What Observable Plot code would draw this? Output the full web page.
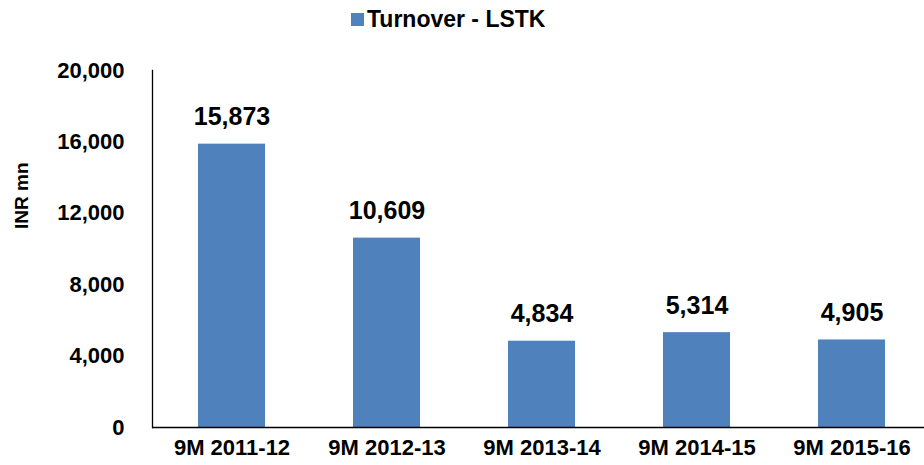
<!DOCTYPE html>
<html>
<head>
<meta charset="utf-8">
<script src="https://cdn.jsdelivr.net/npm/d3@7"></script>
<script src="https://cdn.jsdelivr.net/npm/@observablehq/plot@0.6"></script>
<style>
  html, body { margin: 0; padding: 0; background: #fff; }
  body { width: 924px; height: 465px; overflow: hidden; font-family: "Liberation Sans", Arial, sans-serif; }
  #legend { position: relative; height: 40px; }
  #legend .sw { position: absolute; left: 351px; top: 13px; width: 13px; height: 13px; background: #4F81BD; }
  #legend .lb { position: absolute; left: 367px; top: 6px; font-weight: bold; font-size: 23px; line-height: 27px; color: #000; }
</style>
</head>
<body>
<div id="legend"><span class="sw"></span><span class="lb"></span></div>
<div id="chart"></div>
<script>
const seriesName = "Turnover - LSTK";
const categories = ["9M 2011-12", "9M 2012-13", "9M 2013-14", "9M 2014-15", "9M 2015-16"];
const values = [15873, 10609, 4834, 5314, 4905];
const yTicks = [0, 4000, 8000, 12000, 16000, 20000];
const yLabel = "INR mn";

document.querySelector("#legend .lb").textContent = seriesName;

const data = categories.map((c, i) => ({cat: c, value: values[i]}));
const fmt = d3.format(",");
const font = "Liberation Sans, Arial, sans-serif";

const chart = Plot.plot({
  width: 924,
  height: 425,
  marginTop: 30,
  marginBottom: 38,
  marginLeft: 152,
  marginRight: 0,
  style: {fontFamily: font, color: "#000", background: "#fff"},
  x: {domain: categories, range: [152, 931], paddingInner: 0.57, paddingOuter: 0.285},
  y: {domain: [0, 20000]},
  marks: [
    Plot.barY(data, {x: "cat", y: "value", fill: "#4F81BD"}),
    Plot.frame({anchor: "left", stroke: "#000", strokeWidth: 1.3}),
    Plot.ruleY([0], {stroke: "#000", strokeWidth: 1.3}),
    Plot.axisY({ticks: yTicks, tickFormat: fmt, tickSize: 0, tickPadding: 28, fontSize: 22, fontWeight: "bold", label: null}),
    Plot.axisX({tickSize: 0, tickPadding: 12, fontSize: 22, fontWeight: "bold", label: null}),
    Plot.text(data, {x: "cat", y: "value", text: d => fmt(d.value), lineAnchor: "bottom", dy: -19, fontSize: 25, fontWeight: "bold", fill: "#000"}),
    Plot.text([yLabel], {frameAnchor: "left", rotate: -90, dx: -131, dy: -20, fontSize: 19, fontWeight: "bold", fill: "#000"})
  ]
});
document.getElementById("chart").appendChild(chart);
</script>
</body>
</html>
